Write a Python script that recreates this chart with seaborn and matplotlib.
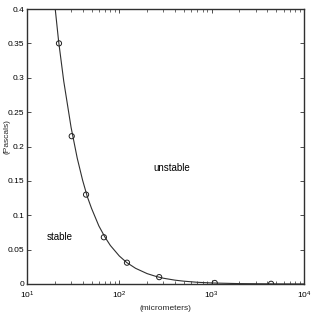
import matplotlib
matplotlib.use("Agg")
import matplotlib.pyplot as plt
import seaborn as sns
import pandas as pd

# Curve samples (x in micrometers, y in Pascals)
curve_x = [20, 22, 25, 30, 35, 40, 45, 50, 60, 70, 80, 100, 120, 150, 200,
           250, 300, 400, 500, 700, 1000, 2000, 5000, 10000]
curve_y = [0.406, 0.353, 0.295, 0.228, 0.183, 0.151, 0.127, 0.110, 0.0845,
           0.068, 0.056, 0.0407, 0.0313, 0.0228, 0.0151, 0.011, 0.0084,
           0.0056, 0.0041, 0.0025, 0.0015, 0.00056, 0.00015, 0.00005]

# Measured points (open circles)
pts_x = [22.2, 30.5, 43.6, 68, 121, 270, 1080, 4400]
pts_y = [0.35, 0.215, 0.13, 0.068, 0.031, 0.01, 0.0015, 0.0003]

y_ticks = [0, 0.05, 0.1, 0.15, 0.2, 0.25, 0.3, 0.35, 0.4]
y_tick_labels = ["0", "0.05", "0.1", "0.15", "0.2", "0.25", "0.3", "0.35", "0.4"]
x_label = "(micrometers)"
y_label = "(Pascals)"
region_labels = ["stable", "unstable"]

sns.set_style("ticks")
plt.rcParams['font.family'] = ['Liberation Sans Narrow', 'Liberation Sans', 'DejaVu Sans']
plt.rcParams['mathtext.fontset'] = 'custom'
plt.rcParams['mathtext.rm'] = 'Liberation Sans'
plt.rcParams['text.color'] = 'black'

fig = plt.figure(figsize=(3.12, 3.12), dpi=100)
ax = fig.add_axes([27/312, (312-284)/312, (304-27)/312, (284-9)/312])

curve = pd.DataFrame({"x": curve_x, "y": curve_y})
pts = pd.DataFrame({"x": pts_x, "y": pts_y})

sns.lineplot(data=curve, x="x", y="y", ax=ax, color="#303030", linewidth=0.8)
sns.scatterplot(data=pts, x="x", y="y", ax=ax, marker="o", s=14,
                facecolor="none", edgecolor="#202020", linewidth=0.7, zorder=3)

ax.set_xscale("log")
ax.set_xlim(10, 10000)
ax.set_ylim(0, 0.4)
ax.set_yticks(y_ticks)
ax.set_yticklabels(y_tick_labels)
ax.set_xlabel(x_label, fontsize=6)
ax.set_ylabel(y_label, fontsize=6)
ax.xaxis.set_label_coords(0.5, -0.075)
ax.yaxis.set_label_coords(-0.06, 0.535)

ax.tick_params(axis="both", which="both", direction="in", top=True, right=True,
               labelsize=6, colors="black", pad=2)
ax.tick_params(axis="x", which="both", pad=4)
ax.tick_params(which="major", length=3, width=0.6, color="#303030")
ax.tick_params(which="minor", length=2, width=0.5, color="#303030")
for s in ax.spines.values():
    s.set_linewidth(1.0)
    s.set_color("#303030")

ax.text(22.5, 0.068, region_labels[0], fontsize=7, ha="center", va="center")
ax.text(370, 0.169, region_labels[1], fontsize=7, ha="center", va="center")

fig.savefig("out.png", dpi=100, facecolor="white")
